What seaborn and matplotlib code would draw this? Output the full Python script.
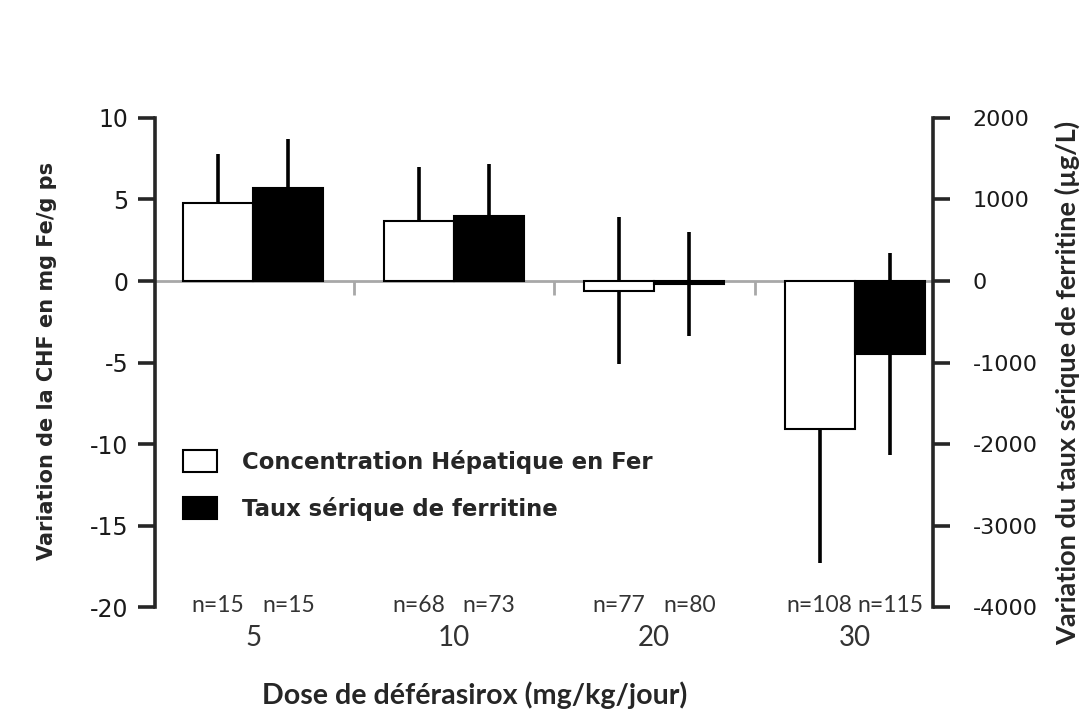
import numpy as np
import pandas as pd
import matplotlib
matplotlib.use("Agg")
import matplotlib.pyplot as plt
import seaborn as sns
from matplotlib.patches import Patch

# doses de déférasirox (mg/kg/jour)
doses = ["5", "10", "20", "30"]
# variation de la CHF (mg Fe/g ps)
chf_mean = [4.8, 3.7, -0.6, -9.1]
chf_sd = [3.0, 3.3, 4.5, 8.2]
# variation de la ferritine sérique (µg/L)
ferr_mean = [1140, 800, -40, -900]
ferr_sd = [600, 640, 640, 1240]
n_chf = [15, 68, 77, 108]
n_ferr = [15, 73, 80, 115]

series = ["Concentration Hépatique en Fer", "Taux sérique de ferritine"]

sns.set_style("white")
plt.rcParams["font.family"] = ["DejaVu Sans"]
plt.rcParams["axes.unicode_minus"] = False

chf = pd.DataFrame({"dose": doses, "val": chf_mean, "serie": series[0]})
fer = pd.DataFrame({"dose": doses, "val": ferr_mean, "serie": series[1]})

fig = plt.figure(figsize=(10.84, 7.23), dpi=100)
ax = fig.add_axes([0.143, 0.1604, 0.7177, 0.6764])
ax2 = ax.twinx()

pal = {series[0]: "white", series[1]: "black"}
sns.barplot(data=chf, x="dose", y="val", hue="serie", hue_order=series, order=doses,
            palette=pal, edgecolor="black", linewidth=1.5, width=0.7, dodge=True,
            errorbar=None, legend=False, ax=ax, zorder=3)
sns.barplot(data=fer, x="dose", y="val", hue="serie", hue_order=series, order=doses,
            palette=pal, edgecolor="black", linewidth=1.5, width=0.7, dodge=True,
            errorbar=None, legend=False, ax=ax2, zorder=3)

ax.set_ylim(-20, 10)
ax2.set_ylim(-4000, 2000)
ax.set_xlim(-0.49, 3.39)


def centers(a):
    xs = sorted(p.get_x() + p.get_width() / 2 for p in a.patches)
    return np.array(xs)


cx_chf = centers(ax)
cx_fer = centers(ax2)

# barres d'erreur (derrière les barres)
ax.errorbar(cx_chf, chf_mean, yerr=chf_sd, fmt="none", ecolor="black",
            elinewidth=2.6, capsize=0, zorder=2)
ax2.errorbar(cx_fer, ferr_mean, yerr=ferr_sd, fmt="none", ecolor="black",
             elinewidth=2.6, capsize=0, zorder=2)

# ligne zéro et séparateurs
ax.axhline(0, color="#a8a8a8", lw=2, zorder=1)
ax.vlines(np.arange(len(doses) - 1) + 0.5, -0.85, 0, color="#a8a8a8", lw=2, zorder=1)

# effectifs
for cx, n in zip(list(cx_chf) + list(cx_fer), n_chf + n_ferr):
    ax.text(cx, -19.9, f"n={n}", ha="center", va="center", fontsize=16.5,
            color="#333333", family="Lato")

# axes
for s in ["top", "bottom", "right"]:
    ax.spines[s].set_visible(False)
for s in ["top", "bottom", "left"]:
    ax2.spines[s].set_visible(False)
ax.spines["left"].set_linewidth(2.6)
ax2.spines["right"].set_linewidth(2.6)

ax.set_yticks(range(-20, 11, 5))
ax.tick_params(axis="y", left=True, direction="out", length=12, width=2.6,
               labelsize=17, pad=7, labelcolor="#1a1a1a")
ax2.set_yticks(range(-4000, 2001, 1000))
ax2.tick_params(axis="y", right=True, direction="out", length=12, width=2.6,
                labelsize=16, pad=16.5, labelcolor="#1a1a1a")

ax.set_xticks(range(len(doses)), doses)
ax.tick_params(axis="x", bottom=False, length=0, pad=13, labelsize=20,
               labelcolor="#333333")
for lab in ax.get_xticklabels():
    lab.set_family("Lato")

ax.set_xlabel("")
ax2.set_xlabel("")
ax2.set_ylabel("")
ax.set_ylabel("")
fig.text(47 / 1084, 1 - 361 / 723, "Variation de la CHF en mg Fe/g ps",
         rotation=90, ha="center", va="center", fontsize=15, fontweight="bold")
fig.text(1067 / 1084, 1 - 383 / 723, "Variation du taux sérique de ferritine (µg/L)",
         rotation=90, ha="center", va="center", fontsize=19.5, fontweight="bold",
         family="Lato")
fig.text(475 / 1084, 1 - 695 / 723, "Dose de déférasirox (mg/kg/jour)",
         ha="center", va="center", fontsize=20.6, fontweight="bold", family="Lato")

handles = [Patch(facecolor="white", edgecolor="black", lw=1.5),
           Patch(facecolor="black", edgecolor="black", lw=1.5)]
fig.legend(handles, series, loc="upper left", bbox_to_anchor=(183 / 1084, 1 - 450 / 723),
           frameon=False, prop={"weight": "bold", "size": 16.4},
           handlelength=1.5, handleheight=1.1, handletextpad=1.1,
           labelspacing=1.0, borderpad=0, borderaxespad=0)

fig.savefig("out.png", dpi=100)
